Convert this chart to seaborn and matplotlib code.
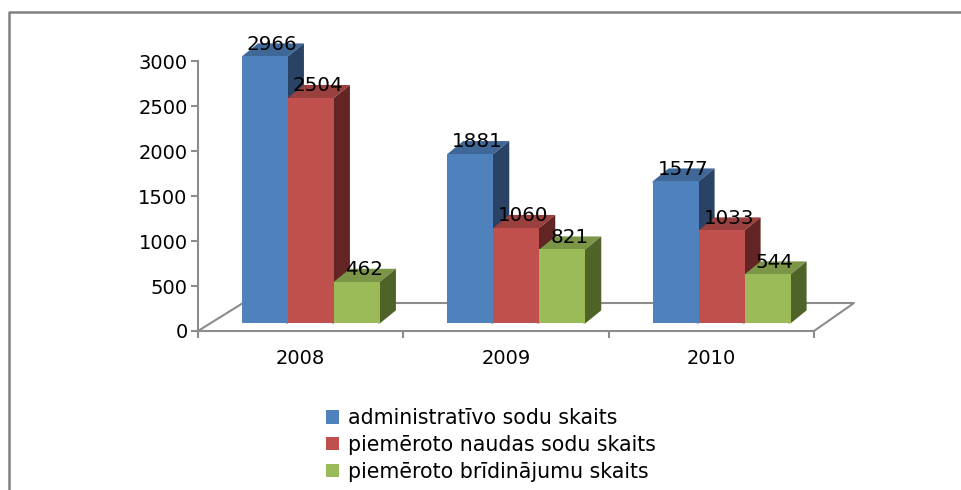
import numpy as np
import pandas as pd
import matplotlib
matplotlib.use("Agg")
import matplotlib.pyplot as plt
import seaborn as sns
from matplotlib.patches import Polygon

# Data
years = ["2008", "2009", "2010"]
series_names = ["administratīvo sodu skaits", "piemēroto naudas sodu skaits", "piemēroto brīdinājumu skaits"]
admin_values = [2966, 1881, 1577]
fine_values = [2504, 1060, 1033]
warning_values = [462, 821, 544]
y_ticks = [0, 500, 1000, 1500, 2000, 2500, 3000]

front_colors = ["#4F81BD", "#C0504D", "#9BBB59"]
top_colors = ["#3F6797", "#9A403E", "#7C9647"]
side_colors = ["#2A4365", "#632523", "#4F6228"]

df = pd.DataFrame({
    "year": years * 3,
    "series": np.repeat(series_names, 3),
    "value": admin_values + fine_values + warning_values,
})

W, H = 962, 490
sns.set_theme(style="white")
plt.rcParams["font.family"] = ["DejaVu Sans"]

fig = plt.figure(figsize=(W / 100, H / 100), dpi=100)
# axes box in pixels: x 198-814, y 61-331
ax = fig.add_axes([198 / W, 1 - 331 / H, 616 / W, 270 / H])
ax.patch.set_alpha(0)

# 3D look: bars stand on a floor raised above the axis
floor = 85
dx_px, dy_px = 16, 13

sns.barplot(data=df, x="year", y="value", hue="series", hue_order=series_names,
            palette=front_colors, order=years, width=0.672, gap=0, saturation=1,
            linewidth=0, legend=True, ax=ax)

ax.set_xlim(-0.55, 2.45)
ax.set_ylim(0, 3000)

to_disp = ax.transData.transform
to_data = ax.transData.inverted().transform


def shift(x, y):
    px = to_disp((x, y)) + np.array([dx_px, dy_px])
    return tuple(to_data(px))


# floor outline
line_color = "#8C8C8C"
fig.add_artist(plt.Line2D([198 / W, 243 / W, 854 / W, 814 / W],
                          [1 - 331 / H, 1 - 303 / H, 1 - 303 / H, 1 - 331 / H],
                          color=line_color, lw=1.5, zorder=0))

bars = [b for c in ax.containers for b in c]
all_vals = admin_values + fine_values + warning_values
n = len(years)
for i, (bar, val) in enumerate(zip(bars, all_vals)):
    s = i // n
    bar.set_y(floor)
    x0, x1 = bar.get_x(), bar.get_x() + bar.get_width()
    y0, y1 = bar.get_y(), bar.get_y() + bar.get_height()
    z = 2 + s * 2 + (i % n) * 0.01
    bar.set_zorder(z + 1)
    # faces run a little under the front so no light seam shows at the edge
    top = [(x0, y1 - 15), (x1, y1 - 15), (x1, y1), shift(x1, y1), shift(x0, y1), (x0, y1)]
    side = [(x1 - 0.01, y0), (x1, y0), shift(x1, y0), shift(x1, y1), (x1, y1), (x1 - 0.01, y1)]
    ax.add_patch(Polygon(top, color=top_colors[s], lw=0, zorder=z, clip_on=False))
    ax.add_patch(Polygon(side, color=side_colors[s], lw=0, zorder=z, clip_on=False))
    bar.set_clip_on(False)
    ax.text((x0 + x1) / 2 + 0.035, y1 + 30, str(val), ha="center", va="bottom",
            fontsize=14.3, color="black", zorder=20, clip_on=False)

# axes
for name in ["top", "right"]:
    ax.spines[name].set_visible(False)
for name in ["left", "bottom"]:
    ax.spines[name].set_color(line_color)
    ax.spines[name].set_linewidth(1.5)

ax.set_yticks(y_ticks)
ax.set_xticks([-0.05, 0.95, 1.95])
ax.set_xticklabels(years)
ax.set_xticks([-0.55, 0.45, 1.45, 2.45], minor=True)
ax.tick_params(axis="x", which="major", length=0, pad=13, labelsize=14, colors="black")
ax.tick_params(axis="x", which="minor", length=5, width=1.5, color=line_color, bottom=True)
ax.tick_params(axis="y", length=5, width=1.5, color=line_color, left=True, labelsize=14,
               labelcolor="black", pad=2.5)
ax.set_xlabel("")
ax.set_ylabel("")

# legend
handles, labels = ax.get_legend_handles_labels()
ax.get_legend().remove()
fig.legend(handles, labels, loc="center left", bbox_to_anchor=(326 / W, 1 - 445 / H),
           frameon=False, fontsize=14.8, labelcolor="black", handlelength=0.63, handleheight=0.63,
           handletextpad=0.44, labelspacing=0.34, borderpad=0, borderaxespad=0)

# outer frame, only left and top are visible
fig.add_artist(plt.Line2D([8.5 / W, 8.5 / W, 1], [0, 1 - 12.5 / H, 1 - 12.5 / H],
                          color="#808080", lw=1.8, zorder=-1))

fig.savefig("out.png", dpi=100)
